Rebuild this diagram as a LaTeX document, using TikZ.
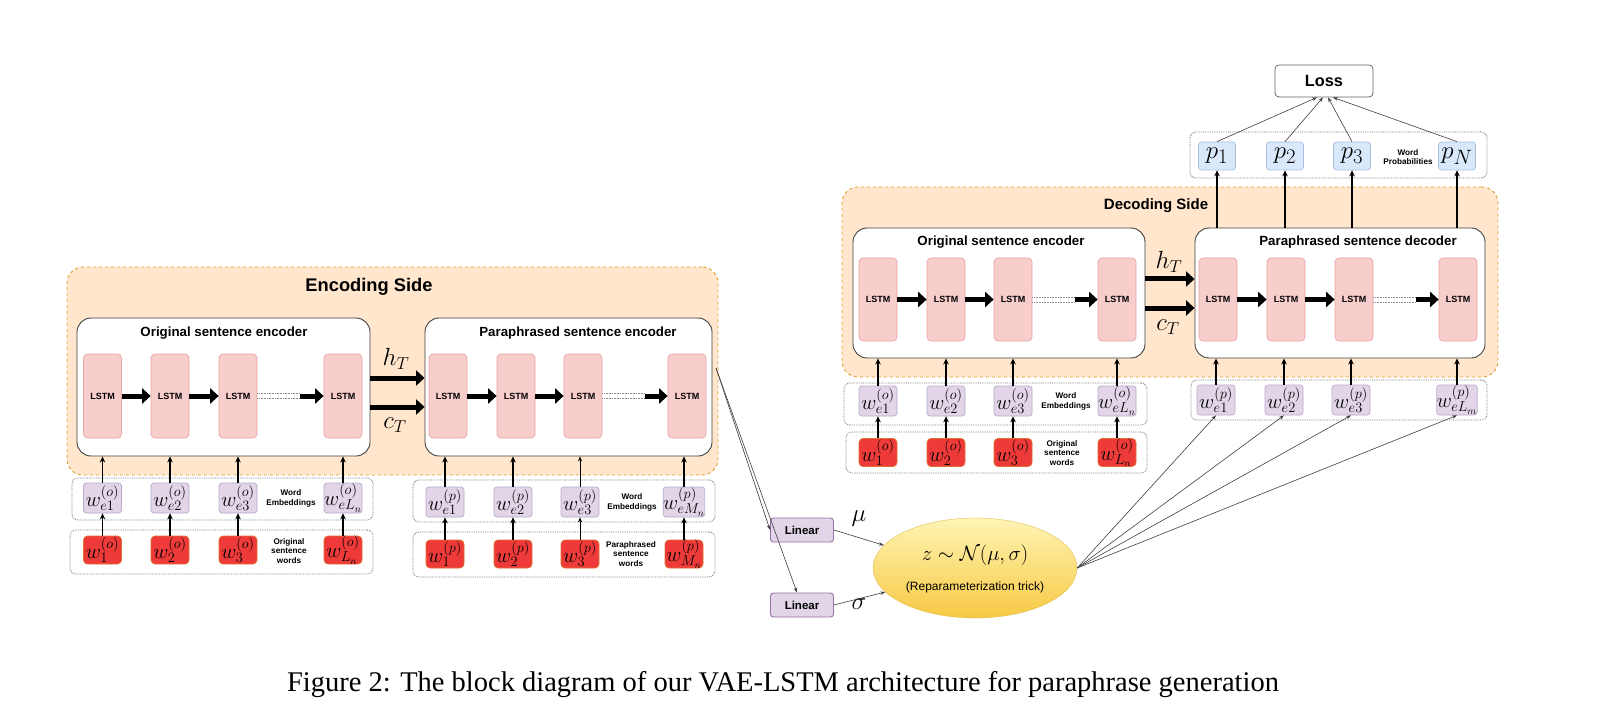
\documentclass[tikz,border=0pt]{standalone}
\usepackage{fontspec}
\setsansfont{Liberation Sans}
\newfontfamily\capfont{Liberation Serif}
\usetikzlibrary{arrows.meta,shapes.geometric,fit,calc}
\definecolor{lstmfill}{HTML}{F8CECC}
\definecolor{lstmdraw}{HTML}{E3A5A3}
\definecolor{embfill}{HTML}{E1D5E7}
\definecolor{embdraw}{HTML}{BBA8CC}
\definecolor{wordfill}{HTML}{EE3B39}
\definecolor{worddraw}{HTML}{E0702E}
\definecolor{pfill}{HTML}{DAE8FC}
\definecolor{pdraw}{HTML}{A7C0E2}
\definecolor{orgfill}{HTML}{FFE6CC}
\definecolor{orgdraw}{HTML}{E0A030}
\definecolor{linfill}{HTML}{E1D5E7}
\definecolor{lindraw}{HTML}{9673A6}
\definecolor{elltop}{HTML}{FFF4B4}
\definecolor{ellbot}{HTML}{F7C944}
\newcommand{\myfs}[2]{\fontsize{#1}{#2}\selectfont}
\tikzset{
  region/.style={draw=orgdraw, dashed, fill=orgfill, rounded corners=16pt, line width=0.9pt, inner sep=0pt},
  bigbox/.style={draw=black!75, fill=white, rounded corners=14pt, line width=0.9pt, inner sep=0pt},
  grp/.style={draw=black!55, densely dotted, rounded corners=6pt, line width=0.8pt, inner sep=0pt},
  lstm/.style={draw=lstmdraw, fill=lstmfill, rounded corners=4pt, minimum width=38pt, minimum height=84pt, inner sep=0pt, line width=0.7pt, font={\sffamily\bfseries\myfs{9}{10}}},
  emb/.style={draw=embdraw, fill=embfill, rounded corners=3pt, minimum width=38pt, minimum height=30pt, inner sep=0pt, line width=0.7pt, font={\myfs{20}{21}}},
  word/.style={draw=worddraw, fill=wordfill, rounded corners=4pt, minimum width=38pt, minimum height=28pt, inner sep=0pt, line width=0.7pt, font={\myfs{20}{21}}},
  pbox/.style={draw=pdraw, fill=pfill, rounded corners=3pt, minimum width=37pt, minimum height=28pt, inner sep=0pt, line width=0.7pt, font={\myfs{28}{29}}},
  lin/.style={draw=lindraw, fill=linfill, rounded corners=3pt, minimum width=63pt, minimum height=24pt, inner sep=0pt, line width=0.9pt, font={\sffamily\bfseries\myfs{11.5}{13}}},
  lbl/.style={font={\sffamily\bfseries\myfs{8.2}{9.8}}, align=center, inner sep=0pt},
  boxtitle/.style={font={\sffamily\bfseries\myfs{13.3}{15}}, inner sep=0pt},
  sidetitle/.style={font={\sffamily\bfseries\myfs{18.3}{20}}, inner sep=0pt},
  mathlbl/.style={font={\myfs{25}{27}}, inner sep=0pt},
  bigarrow/.style={line width=5pt, -{Triangle[length=8.5pt,width=15pt]}},
  uparrow/.style={line width=1.7pt, -{Stealth[length=6pt,width=5.5pt]}},
  thinup/.style={line width=0.7pt, -{Stealth[length=5pt,width=4pt]}},
  thinarrow/.style={line width=0.6pt, draw=black!75, -{Stealth[length=5pt,width=3.5pt]}},
  dots/.style={densely dotted, line width=0.6pt, black!45},
}
\begin{document}
\begin{tikzpicture}[x=1pt,y=-1pt]
\fill[white] (0,0) rectangle (1603,719);
\useasboundingbox (0,0) rectangle (1603,719);

% ================= ENCODING SIDE =================
\node[region, fit={(67,267) (718,475)}] (encside) {};
\node[sidetitle] (enctitle) at (369,287) {Encoding Side};
\node[grp, fit={(72,478) (373,520)}] (gea) {};
\node[grp, fit={(70,530) (373,574)}] (gwa) {};
\node[grp, fit={(413,480) (715,522)}] (geb) {};
\node[grp, fit={(413,532) (715,577)}] (gwb) {};
\node[bigbox, fit={(77,318) (370,456)}] (A) {};
\node[bigbox, fit={(425,318) (712,456)}] (B) {};
\node[boxtitle] (Atitle) at (224,333) {Original sentence encoder};
\node[boxtitle] (Btitle) at (578,333) {Paraphrased sentence encoder};

\foreach \n/\x in {1/102.5,2/170,3/238,4/343} \node[lstm] (la\n) at (\x,396) {LSTM};
\foreach \n/\x in {1/448,2/516,3/583,4/687} \node[lstm] (lb\n) at (\x,396) {LSTM};
\foreach \n/\x/\s in {1/102.5/{e1},2/170/{e2},3/238/{e3},4/343/{eL_n}} \node[emb] (ea\n) at (\x,498) {$w^{(o)}_{\s}$};
\foreach \n/\x/\s in {1/102.5/{1},2/170/{2},3/238/{3},4/343/{L_n}} \node[word] (wa\n) at (\x,550) {$w^{(o)}_{\s}$};
\foreach \n/\x/\s in {1/445/{e1},2/513/{e2},3/580/{e3},4/684/{eM_n}} \node[emb] (eb\n) at (\x,502) {$w^{(p)}_{\s}$};
\foreach \n/\x/\s in {1/445/{1},2/513/{2},3/580/{3},4/684/{M_n}} \node[word] (wb\n) at (\x,554) {$w^{(p)}_{\s}$};
\node[lbl] (lea) at (291,498) {Word\\Embeddings};
\node[lbl] (lwa) at (289,551) {Original\\sentence\\words};
\node[lbl] (leb) at (632,502) {Word\\Embeddings};
\node[lbl] (lwb) at (631,554) {Paraphrased\\sentence\\words};

\foreach \n in {1,2,3,4} {
  \draw[uparrow] (wa\n) -- (ea\n);
  \draw[uparrow] (ea\n.north) -- (ea\n.north |- A.south);
}
\foreach \n in {1,2,4} {
  \draw[uparrow] (wb\n) -- (eb\n);
  \draw[uparrow] (eb\n.north) -- (eb\n.north |- B.south);
}
\draw[thinup] (wb3) -- (eb3);
\draw[thinup] (eb3.north) -- (eb3.north |- B.south);

\draw[bigarrow] (la1) -- (la2);
\draw[bigarrow] (la2) -- (la3);
\coordinate (ma) at ($(la4.west)+(-24,0)$);
\draw[dots] ([yshift=2.5pt]la3.east) -- ([yshift=2.5pt]ma);
\draw[dots] ([yshift=-2.5pt]la3.east) -- ([yshift=-2.5pt]ma);
\draw[bigarrow] (ma) -- (la4);
\draw[bigarrow] (lb1) -- (lb2);
\draw[bigarrow] (lb2) -- (lb3);
\coordinate (mb) at ($(lb4.west)+(-23,0)$);
\draw[dots] ([yshift=2.5pt]lb3.east) -- ([yshift=2.5pt]mb);
\draw[dots] ([yshift=-2.5pt]lb3.east) -- ([yshift=-2.5pt]mb);
\draw[bigarrow] (mb) -- (lb4);

\coordinate (hya) at (0,378);
\coordinate (cya) at (0,407);
\draw[bigarrow] (A.east |- hya) -- (B.west |- hya);
\draw[bigarrow] (A.east |- cya) -- (B.west |- cya);
\node[mathlbl] (hTa) at (396,359) {$h_T$};
\node[mathlbl] (cTa) at (395,425) {$c_T$};

% ================= MIDDLE =================
\node[lin] (lin1) at (802,530) {Linear};
\node[lin] (lin2) at (802,605) {Linear};
\node[ellipse, minimum width=204pt, minimum height=100pt, top color=elltop, bottom color=ellbot, draw=ellbot!90!black, line width=0.3pt] (z) at (975,568) {};
\node[font={\myfs{22}{24}}, inner sep=0pt] (zf) at (975,555) {$z\sim\mathcal{N}(\mu,\sigma)$};
\node[font={\sffamily\myfs{12}{14}}, inner sep=0pt] (zr) at (975,587) {(Reparameterization trick)};
\node[font={\myfs{24}{26}}, inner sep=0pt] (mu) at (859,519) {$\mu$};
\node[font={\myfs{24}{26}}, inner sep=0pt] (sig) at (859,604) {$\sigma$};
\coordinate (encout) at (716,368);
\draw[thinarrow] (encout) -- (lin1.west);
\draw[thinarrow] (encout) -- ([xshift=-5pt]lin2.north);
\draw[thinarrow] (lin1.east) -- (z.166);
\draw[thinarrow] (lin2.east) -- (z.195);

% ================= DECODING SIDE =================
\node[region, fit={(842,187) (1498,377)}] (decside) {};
\node[sidetitle, font={\sffamily\bfseries\myfs{15}{17}}] (dectitle) at (1156,206) {Decoding Side};
\node[grp, fit={(844,383) (1147,425)}] (gec) {};
\node[grp, fit={(846,432) (1147,473)}] (gwc) {};
\node[grp, fit={(1191,380) (1487,420)}] (ged) {};
\node[grp, fit={(1190,132) (1487,178)}] (gp) {};
\node[bigbox, fit={(853,228) (1145,358)}] (C) {};
\node[bigbox, fit={(1195,228) (1485,358)}] (D) {};
\node[boxtitle] (Ctitle) at (1001,242) {Original sentence encoder};
\node[boxtitle] (Dtitle) at (1358,242) {Paraphrased sentence decoder};

\foreach \n/\x in {1/878,2/946,3/1013,4/1117} \node[lstm, minimum height=83pt] (lc\n) at (\x,299.5) {LSTM};
\foreach \n/\x in {1/1218,2/1286,3/1354,4/1458} \node[lstm, minimum height=83pt] (ld\n) at (\x,299.5) {LSTM};
\foreach \n/\x/\s in {1/878/{e1},2/946/{e2},3/1013/{e3},4/1117/{eL_n}} \node[emb] (ec\n) at (\x,401) {$w^{(o)}_{\s}$};
\foreach \n/\x/\s in {1/878/{1},2/946/{2},3/1013/{3},4/1117/{L_n}} \node[word] (wc\n) at (\x,452.5) {$w^{(o)}_{\s}$};
\foreach \n/\x/\s in {1/1216/{e1},2/1284/{e2},3/1351/{e3},4/1457/{eL_m}} \node[emb] (ed\n) at (\x,400) {$w^{(p)}_{\s}$};
\foreach \n/\x/\s in {1/1217/{1},2/1285/{2},3/1352/{3},4/1457/{N}} \node[pbox] (p\n) at (\x,156) {$p_{\s}$};
\node[lbl] (lec) at (1066,401) {Word\\Embeddings};
\node[lbl] (lwc) at (1062,453) {Original\\sentence\\words};
\node[lbl] (lp) at (1408,157) {Word\\Probabilities};

\foreach \n in {1,2,3,4} {
  \draw[uparrow] (wc\n) -- (ec\n);
  \draw[uparrow] (ec\n.north) -- (ec\n.north |- C.south);
  \draw[uparrow] (ed\n.north) -- (ed\n.north |- D.south);
  \draw[uparrow] (p\n.south |- D.north) -- (p\n.south);
  \draw[thinarrow] (z.east) -- (ed\n.south);
}

\draw[bigarrow] (lc1) -- (lc2);
\draw[bigarrow] (lc2) -- (lc3);
\coordinate (mc) at ($(lc4.west)+(-23,0)$);
\draw[dots] ([yshift=2.5pt]lc3.east) -- ([yshift=2.5pt]mc);
\draw[dots] ([yshift=-2.5pt]lc3.east) -- ([yshift=-2.5pt]mc);
\draw[bigarrow] (mc) -- (lc4);
\draw[bigarrow] (ld1) -- (ld2);
\draw[bigarrow] (ld2) -- (ld3);
\coordinate (md) at ($(ld4.west)+(-23,0)$);
\draw[dots] ([yshift=2.5pt]ld3.east) -- ([yshift=2.5pt]md);
\draw[dots] ([yshift=-2.5pt]ld3.east) -- ([yshift=-2.5pt]md);
\draw[bigarrow] (md) -- (ld4);

\coordinate (hyc) at (0,279);
\coordinate (cyc) at (0,308);
\draw[bigarrow] (C.east |- hyc) -- (D.west |- hyc);
\draw[bigarrow] (C.east |- cyc) -- (D.west |- cyc);
\node[mathlbl] (hTc) at (1169,262) {$h_T$};
\node[mathlbl] (cTc) at (1168,327) {$c_T$};

% ================= LOSS =================
\node[draw=black!60, fill=white, rounded corners=4pt, line width=0.8pt, minimum width=98pt, minimum height=32pt, inner sep=0pt, font={\sffamily\bfseries\myfs{16.3}{18}}] (loss) at (1324,81) {Loss};
\draw[thinarrow] (p1.north) -- ([xshift=-7pt]loss.south);
\draw[thinarrow] (p2.north) -- ([xshift=-1pt]loss.south);
\draw[thinarrow] (p3.north) -- ([xshift=4pt]loss.south);
\draw[thinarrow] (p4.north) -- ([xshift=9pt]loss.south);

% ================= CAPTION =================
\node[font={\capfont\myfs{28.5}{30}}, inner sep=0pt] (cap) at (783,685) {Figure 2: The block diagram of our VAE-LSTM architecture for paraphrase generation};
\end{tikzpicture}
\end{document}
